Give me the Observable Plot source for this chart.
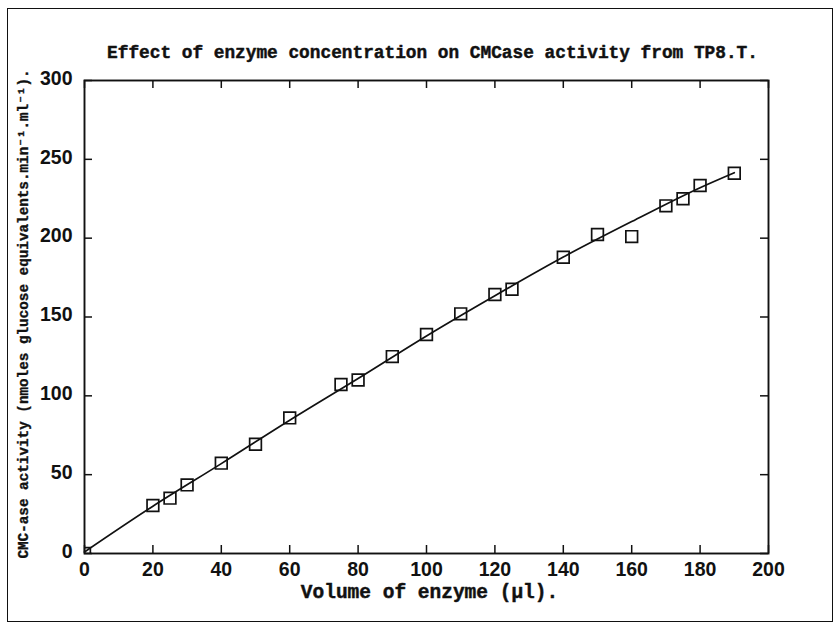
<!DOCTYPE html>
<html>
<head>
<meta charset="utf-8">
<script src="https://cdn.jsdelivr.net/npm/d3@7"></script>
<script src="https://cdn.jsdelivr.net/npm/@observablehq/plot@0.6"></script>
<style>
  body { margin: 0; background: #fff; }
  #wrap { position: relative; width: 835px; height: 624px; overflow: hidden; }
  #border { position: absolute; left: 7px; top: 8px; width: 826px; height: 614px; border: 1.6px solid #111; box-sizing: border-box; }
  #chart { position: absolute; left: 0; top: 0; }
</style>
</head>
<body>
<div id="wrap"><div id="border"></div><div id="chart"></div></div>
<script>
// Data
const volume   = [0, 20, 25, 30, 40, 50, 60, 75, 80, 90, 100, 110, 120, 125, 140, 150, 160, 170, 175, 180, 190];
const activity = [0, 30.4, 35.1, 43.5, 57.3, 69.3, 86, 107.2, 110, 124.9, 138.9, 152, 164.3, 167.6, 187.9, 202.3, 201, 220.5, 225, 233.4, 241.2];

// Fitted curve
const fitVolume   = [0, 20, 40, 60, 80, 100, 120, 140, 160, 180, 190];
const fitActivity = [1, 30, 57, 84.5, 111, 138, 163.5, 188, 210.5, 232, 241.5];

const xTicks = [0, 20, 40, 60, 80, 100, 120, 140, 160, 180, 200];
const yTicks = [0, 50, 100, 150, 200, 250, 300];

const titleText = "Effect of enzyme concentration on CMCase activity from TP8.T.";
const xLabel = "Volume of enzyme (\u00b5l).";
const yLabel = "CMC-ase activity (nmoles glucose equivalents.min\u207b\u00b9.ml\u207b\u00b9).";

const points = volume.map((v, i) => ({x: v, y: activity[i]}));
const fit = fitVolume.map((v, i) => ({x: v, y: fitActivity[i]}));

const W = 835, H = 624, mL = 84, mR = 67, mT = 80, mB = 71;
const plotW = W - mL - mR, plotH = H - mT - mB;
const tick = 8;
const ink = "#111";
const tickFont = "'Liberation Sans', Arial, sans-serif";
const labelFont = "'Liberation Mono', 'DejaVu Sans Mono', monospace";
const heavy = {fill: ink, stroke: ink, strokeWidth: 0.45};

const chart = Plot.plot({
  width: W, height: H,
  marginLeft: mL, marginRight: mR, marginTop: mT, marginBottom: mB,
  style: {background: "transparent", color: ink},
  x: {domain: [0, 200]},
  y: {domain: [0, 300]},
  marks: [
    Plot.tickX(xTicks, {x: d => d, insetTop: plotH - tick, stroke: ink, strokeWidth: 1.5}),
    Plot.tickX(xTicks, {x: d => d, insetBottom: plotH - tick, stroke: ink, strokeWidth: 1.5}),
    Plot.tickY(yTicks, {y: d => d, insetRight: plotW - tick, stroke: ink, strokeWidth: 1.5}),
    Plot.tickY(yTicks, {y: d => d, insetLeft: plotW - tick, stroke: ink, strokeWidth: 1.5}),
    Plot.axisX({ticks: xTicks, tickSize: 0, tickPadding: 9, label: null, fontSize: 19.5, fontWeight: "bold", fontFamily: tickFont, tickFormat: d => String(d)}),
    Plot.axisY({ticks: yTicks, tickSize: 0, tickPadding: 12, label: null, fontSize: 19.5, fontWeight: "bold", fontFamily: tickFont, tickFormat: d => String(d), dy: -2}),
    Plot.line(fit, {x: "x", y: "y", stroke: ink, strokeWidth: 1.7, curve: "monotone-x"}),
    Plot.dot(points, {x: "x", y: "y", symbol: "square", r: 6.6, stroke: ink, strokeWidth: 1.7, fill: "none", clip: true}),
    Plot.frame({stroke: ink, strokeWidth: 1.9}),
    Plot.text([titleText], {text: d => d, frameAnchor: "top", textAnchor: "middle", lineAnchor: "middle", dx: 6, dy: -28, fontSize: 17.8, fontWeight: "bold", fontFamily: labelFont, ...heavy}),
    Plot.text([xLabel], {text: d => d, frameAnchor: "bottom", textAnchor: "middle", lineAnchor: "middle", dx: 3, dy: 38, fontSize: 19.5, fontWeight: "bold", fontFamily: labelFont, ...heavy}),
    Plot.text([yLabel], {text: d => d, frameAnchor: "left", textAnchor: "middle", lineAnchor: "middle", rotate: -90, dx: -61, dy: -3, fontSize: 14.3, fontWeight: "bold", fontFamily: labelFont, ...heavy, strokeWidth: 0.35})
  ]
});
document.getElementById("chart").appendChild(chart);
</script>
</body>
</html>
